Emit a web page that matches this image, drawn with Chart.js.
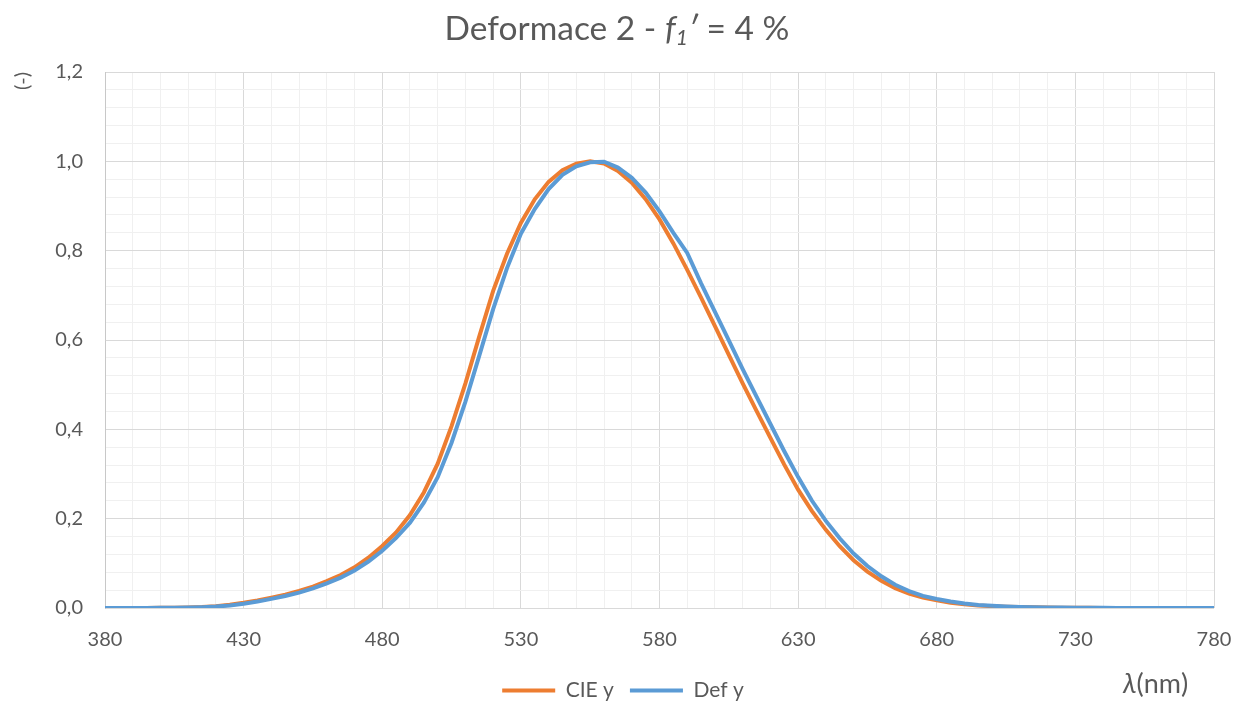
<!DOCTYPE html>
<html>
<head>
<meta charset="utf-8">
<script src="https://cdn.jsdelivr.net/npm/chart.js@4.4.1/dist/chart.umd.min.js"></script>
<style>
    html, body { margin: 0; padding: 0; background: #fff; }
    #wrap { position: relative; width: 1234px; height: 702px; font-family: Lato, "Open Sans", sans-serif; color: #595959; }
    #title { position: absolute; left: 0; top: 7px; width: 1234px; text-align: center; font-size: 33.5px; }
    #title sub { font-size: 21px; vertical-align: -5px; line-height: 0; }
    #xlabel { position: absolute; left: 1123px; top: 666px; font-size: 27px; }
</style>
</head>
<body>
<div id="wrap">
    <canvas id="chart"></canvas>
    <div id="title">Deformace 2 - <i>f<sub>1</sub>′</i> = 4 %</div>
    <div id="xlabel"><i>λ</i>(nm)</div>
</div>
<script>
(function() {
    "use strict";

    // wavelengths, 5 nm step
    const lambda = [
        380,385,390,395,400,405,410,415,420,425,430,435,440,445,450,455,460,465,470,475,
        480,485,490,495,500,505,510,515,520,525,530,535,540,545,550,555,560,565,570,575,
        580,585,590,595,600,605,610,615,620,625,630,635,640,645,650,655,660,665,670,675,
        680,685,690,695,700,705,710,715,720,725,730,735,740,745,750,755,760,765,770,775,780
    ];

    const cieY = [
        0.00004,0.00006,0.00012,0.00022,0.0004,0.00064,0.0012,0.0022,0.004,0.0073,
        0.0116,0.0168,0.023,0.0298,0.038,0.048,0.06,0.0739,0.091,0.1126,
        0.139,0.1693,0.208,0.2586,0.323,0.4073,0.503,0.6082,0.71,0.7932,
        0.862,0.9149,0.954,0.9803,0.995,1.0,0.995,0.9786,0.952,0.9154,
        0.87,0.8163,0.757,0.6949,0.631,0.5668,0.503,0.4412,0.381,0.321,
        0.265,0.217,0.175,0.1382,0.107,0.0816,0.061,0.0446,0.032,0.0232,
        0.017,0.0119,0.0082,0.0057,0.0041,0.0029,0.0021,0.0015,0.001,0.00074,
        0.00052,0.00036,0.00025,0.00017,0.00012,0.00008,0.00006,0.00004,0.00003,0.00002,0.000015
    ];

    const defY = [
        0.00003,0.00005,0.0001,0.00017,0.0003,0.0005,0.0009,0.0017,0.0031,0.0058,
        0.0097,0.0145,0.0205,0.027,0.0345,0.044,0.055,0.068,0.084,0.104,
        0.128,0.157,0.191,0.236,0.293,0.37,0.462,0.565,0.669,0.761,
        0.838,0.893,0.938,0.97,0.989,0.998,0.999,0.986,0.963,0.93,
        0.888,0.84,0.795,0.727,0.663,0.599,0.535,0.473,0.412,0.351,
        0.293,0.24,0.195,0.156,0.122,0.094,0.071,0.052,0.038,0.027,
        0.02,0.0144,0.01,0.0069,0.0049,0.0035,0.0025,0.0018,0.0013,0.0009,
        0.00063,0.00044,0.0003,0.00021,0.00014,0.0001,0.00007,0.00005,0.000036,0.000025,0.000018
    ];

    const xMajor = 50, yMajor = 0.2;
    const textColor = '#595959';
    const fontFamily = 'Lato, "Open Sans", sans-serif';

    const isMajorY = v => Math.abs(v / yMajor - Math.round(v / yMajor)) < 1e-6;
    const isMajorX = v => (v - 380) % xMajor === 0;

    const pts = arr => arr.map((v, i) => ({ x: lambda[i], y: v }));

    new Chart(document.getElementById('chart'), {
        type: 'line',
        data: {
            datasets: [{
                label: 'CIE y',
                data: pts(cieY),
                borderColor: '#ED7D31',
                backgroundColor: '#ED7D31',
                borderWidth: 4,
                pointRadius: 0,
                tension: 0,
                order: 2
            }, {
                label: 'Def y',
                data: pts(defY),
                borderColor: '#5B9BD5',
                backgroundColor: '#5B9BD5',
                borderWidth: 4,
                pointRadius: 0,
                tension: 0,
                order: 1
            }]
        },
        options: {
            responsive: true,
            maintainAspectRatio: false,
            animation: false,
            layout: { padding: { top: 72, right: 20, left: 32, bottom: -9 } },
            plugins: {
                tooltip: { enabled: false },
                legend: {
                    position: 'bottom',
                    labels: {
                        usePointStyle: true,
                        pointStyle: 'line',
                        pointStyleWidth: 53,
                        boxHeight: 20,
                        padding: 16,
                        color: textColor,
                        font: { size: 21, family: fontFamily },
                        sort: (a, b) => a.datasetIndex - b.datasetIndex
                    }
                }
            },
            scales: {
                x: {
                    type: 'linear',
                    min: 380,
                    max: 780,
                    afterFit: s => { s.height = 56; s.paddingLeft = 0; s.paddingRight = 0; },
                    ticks: {
                        stepSize: 10,
                        autoSkip: false,
                        maxRotation: 0,
                        padding: 20,
                        color: textColor,
                        font: { size: 20, family: fontFamily },
                        callback: v => isMajorX(v) ? String(v) : ''
                    },
                    grid: {
                        drawTicks: false,
                        color: c => isMajorX(c.tick.value) ? '#d9d9d9' : '#f0f0f0'
                    },
                    border: { display: false }
                },
                y: {
                    min: 0,
                    max: 1.2,
                    afterFit: s => { s.width = 73; },
                    title: {
                        display: true,
                        text: '(-)',
                        align: 'end',
                        color: textColor,
                        font: { size: 20, family: fontFamily },
                        padding: { top: -21, bottom: 0 }
                    },
                    ticks: {
                        stepSize: 0.04,
                        autoSkip: false,
                        padding: 22,
                        color: textColor,
                        font: { size: 20, family: fontFamily },
                        callback: v => isMajorY(v) ? v.toFixed(1).replace('.', ',') : ''
                    },
                    grid: {
                        drawTicks: false,
                        color: c => isMajorY(c.tick.value) ? '#d9d9d9' : '#f0f0f0'
                    },
                    border: { color: '#c8c8c8' }
                }
            }
        }
    });
})();
</script>
</body>
</html>
